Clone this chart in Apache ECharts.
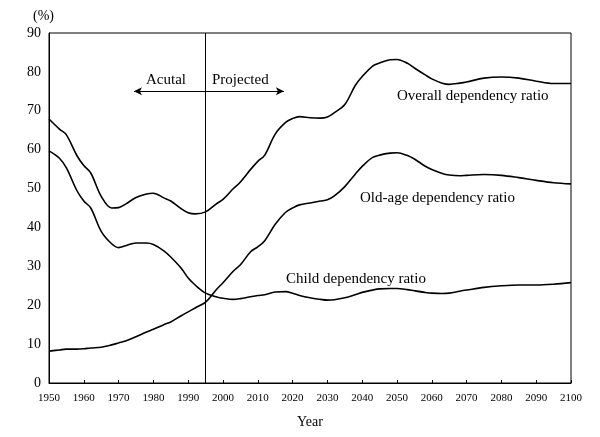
<!DOCTYPE html>
<html><head><meta charset="utf-8">
<script src="https://cdn.jsdelivr.net/npm/echarts@6/dist/echarts.min.js"></script>
<style>html,body{margin:0;padding:0;background:#fff}#c{width:600px;height:437px}</style>
</head><body><div id="c"></div>
<script>
var years = [1950,1953,1955,1958,1960,1962,1965,1968,1970,1972,1975,1978,1980,1983,1985,1988,1990,1992,1995,1998,2000,2003,2005,2008,2010,2012,2015,2018,2020,2022,2025,2028,2030,2032,2035,2038,2040,2043,2045,2048,2050,2053,2055,2058,2060,2063,2065,2068,2070,2075,2080,2085,2090,2095,2100];
var overall = [67.9,65.3,63.8,58.5,55.9,54.0,48.0,45.0,45.1,46.0,47.7,48.6,48.8,47.6,46.8,44.8,43.8,43.5,44.0,46.0,47.2,50.0,51.7,55.0,57.0,58.6,64.0,67.0,68.0,68.5,68.2,68.1,68.4,69.5,71.6,76.5,78.8,81.5,82.3,83.1,83.2,82.2,81.0,79.3,78.2,77.1,76.8,77.1,77.4,78.4,78.7,78.4,77.6,77.0,77.0];
var oldAge = [8.2,8.5,8.7,8.7,8.8,9.0,9.2,9.8,10.3,10.8,11.9,13.1,13.8,15.0,15.7,17.3,18.3,19.3,20.8,23.9,25.8,28.8,30.4,33.8,35.0,36.6,40.8,43.9,45.0,45.8,46.3,46.8,47.1,48.1,50.5,53.7,55.7,58.0,58.6,59.1,59.2,58.5,57.6,55.8,54.9,53.9,53.5,53.3,53.4,53.6,53.4,52.8,52.1,51.5,51.2];
var child = [59.7,57.8,55.3,49.5,46.8,45.0,39.0,35.8,34.8,35.3,36.0,36.0,35.6,34.0,32.4,29.5,27.0,25.2,23.1,22.2,21.8,21.5,21.7,22.2,22.5,22.7,23.4,23.5,23.1,22.5,21.9,21.5,21.3,21.4,21.9,22.7,23.3,23.9,24.2,24.3,24.3,24.0,23.7,23.3,23.1,23.0,23.1,23.6,23.9,24.6,25.0,25.2,25.2,25.4,25.8];
var xTicks = [1950,1960,1970,1980,1990,2000,2010,2020,2030,2040,2050,2060,2070,2080,2090,2100];
var yTicks = [0,10,20,30,40,50,60,70,80,90];
var splitYear = 1995;
var arrowFrom = 1974.4, arrowTo = 2017.5, arrowLevel = 75;

function pairs(v){ return years.map(function(y,i){ return [y, v[i]]; }); }
var FONT = '"Liberation Serif","DejaVu Serif",serif';
function lineSeries(name, vals){
  return { name: name, type: 'line', data: pairs(vals), smooth: 0.35, symbol: 'none',
    lineStyle: { color: '#000', width: 1.6 }, silent: true };
}
var s1 = lineSeries('Overall dependency ratio', overall);
s1.markLine = { silent: true, symbol: ['none','none'], label: { show: false },
  lineStyle: { color: '#000', width: 1, type: 'solid' },
  data: [ { xAxis: splitYear } ] };
var s2 = lineSeries('Old-age dependency ratio', oldAge);
s2.markLine = { silent: true, symbol: ['arrow','arrow'], symbolSize: [6,8], label: { show: false },
  lineStyle: { color: '#000', width: 1, type: 'solid' },
  data: [ [ { coord: [arrowFrom, arrowLevel] }, { coord: [arrowTo, arrowLevel] } ] ] };
var s3 = lineSeries('Child dependency ratio', child);

var chart = echarts.init(document.getElementById('c'), null, { renderer: 'canvas' });
chart.setOption({
  animation: false,
  backgroundColor: '#fff',
  grid: { left: 49, right: 29, top: 33, bottom: 54, show: true, borderColor: '#000', borderWidth: 1 },
  xAxis: { type: 'value', min: 1950, max: 2100, interval: 10,
    name: 'Year', nameLocation: 'middle', nameGap: 32,
    nameTextStyle: { fontFamily: FONT, fontSize: 14, color: '#000' },
    axisLine: { lineStyle: { color: '#000', width: 1 } },
    axisTick: { inside: true, length: 3, lineStyle: { color: '#000' } },
    axisLabel: { fontFamily: FONT, fontSize: 11, color: '#000', margin: 10,
      formatter: function(v){ return xTicks.indexOf(v) >= 0 ? String(v) : ''; } },
    splitLine: { show: false } },
  yAxis: { type: 'value', min: 0, max: 90, interval: 10,
    axisLine: { show: true, lineStyle: { color: '#000', width: 1 } },
    axisTick: { show: false },
    axisLabel: { fontFamily: FONT, fontSize: 14, color: '#000', margin: 8,
      formatter: function(v){ return yTicks.indexOf(v) >= 0 ? String(v) : ''; } },
    splitLine: { show: false } },
  series: [s1, s2, s3],
  graphic: [
    { type: 'text', left: 33, top: 9, style: { text: '(%)', font: '14px ' + FONT, fill: '#000' } },
    { type: 'text', left: 146, top: 73, style: { text: 'Acutal', font: '15px ' + FONT, fill: '#000' } },
    { type: 'text', left: 212, top: 73, style: { text: 'Projected', font: '15px ' + FONT, fill: '#000' } },
    { type: 'text', left: 397, top: 89, style: { text: 'Overall dependency ratio', font: '15px ' + FONT, fill: '#000' } },
    { type: 'text', left: 360, top: 191, style: { text: 'Old-age dependency ratio', font: '15px ' + FONT, fill: '#000' } },
    { type: 'text', left: 286, top: 272, style: { text: 'Child dependency ratio', font: '15px ' + FONT, fill: '#000' } }
  ]
});
</script></body></html>
